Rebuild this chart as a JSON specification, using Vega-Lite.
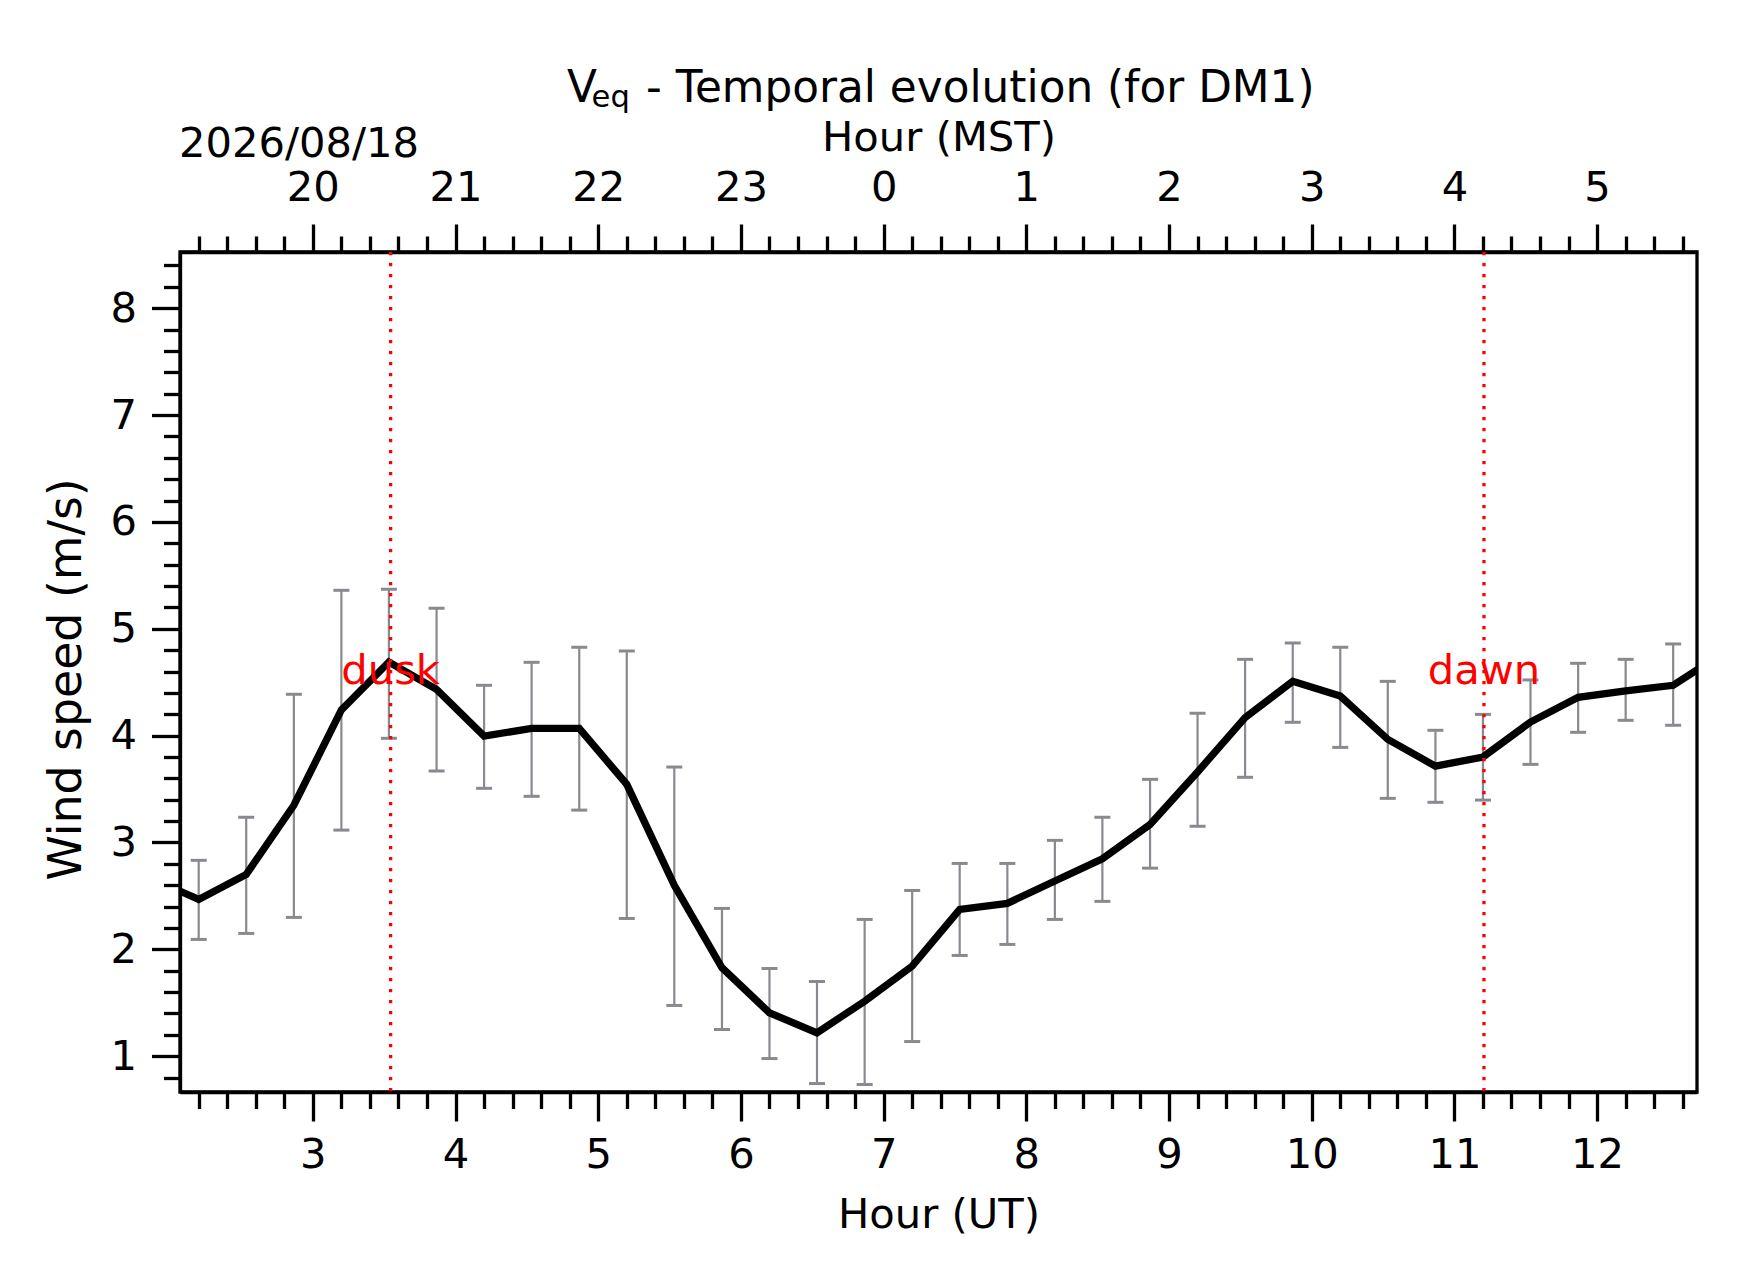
{
  "$schema": "https://vega.github.io/schema/vega-lite/v6.json",
  "autosize": {"type": "none"},
  "padding": {"left": 180, "top": 252, "right": 45, "bottom": 190},
  "width": 1517,
  "height": 840,
  "background": "white",
  "title": {
    "text": "V\u00a0\u00a0\u00a0\u2006- Temporal evolution (for DM1)",
    "subtitle": "\u200b\u00a0\u00a0\u2006eq",
    "anchor": "start",
    "frame": "group",
    "dx": 387,
    "offset": 3,
    "font": "DejaVu Sans",
    "fontSize": 43.75,
    "fontWeight": "normal",
    "color": "black",
    "subtitleFont": "DejaVu Sans",
    "subtitleFontSize": 30.6,
    "subtitleColor": "black",
    "subtitlePadding": -27
  },
  "datasets": {
    "series": [
      {"hour": 1.867, "speed": 2.665, "lo": null, "hi": null},
      {"hour": 2.2, "speed": 2.467, "lo": 2.093, "hi": 2.833},
      {"hour": 2.533, "speed": 2.701, "lo": 2.149, "hi": 3.236},
      {"hour": 2.867, "speed": 3.349, "lo": 2.299, "hi": 4.387},
      {"hour": 3.2, "speed": 4.24, "lo": 3.116, "hi": 5.36},
      {"hour": 3.533, "speed": 4.689, "lo": 3.975, "hi": 5.37},
      {"hour": 3.867, "speed": 4.433, "lo": 3.669, "hi": 5.192},
      {"hour": 4.2, "speed": 3.996, "lo": 3.507, "hi": 4.471},
      {"hour": 4.533, "speed": 4.068, "lo": 3.432, "hi": 4.686},
      {"hour": 4.867, "speed": 4.068, "lo": 3.303, "hi": 4.827},
      {"hour": 5.2, "speed": 3.544, "lo": 2.289, "hi": 4.792},
      {"hour": 5.533, "speed": 2.6, "lo": 1.475, "hi": 3.706},
      {"hour": 5.867, "speed": 1.828, "lo": 1.25, "hi": 2.383},
      {"hour": 6.2, "speed": 1.406, "lo": 0.978, "hi": 1.821},
      {"hour": 6.533, "speed": 1.219, "lo": 0.744, "hi": 1.699},
      {"hour": 6.867, "speed": 1.515, "lo": 0.735, "hi": 2.28},
      {"hour": 7.2, "speed": 1.843, "lo": 1.137, "hi": 2.551},
      {"hour": 7.533, "speed": 2.374, "lo": 1.943, "hi": 2.804},
      {"hour": 7.867, "speed": 2.43, "lo": 2.046, "hi": 2.804},
      {"hour": 8.2, "speed": 2.639, "lo": 2.28, "hi": 3.02},
      {"hour": 8.533, "speed": 2.848, "lo": 2.449, "hi": 3.236},
      {"hour": 8.867, "speed": 3.169, "lo": 2.76, "hi": 3.591},
      {"hour": 9.2, "speed": 3.66, "lo": 3.151, "hi": 4.209},
      {"hour": 9.533, "speed": 4.168, "lo": 3.61, "hi": 4.714},
      {"hour": 9.867, "speed": 4.508, "lo": 4.125, "hi": 4.867},
      {"hour": 10.2, "speed": 4.371, "lo": 3.89, "hi": 4.827},
      {"hour": 10.533, "speed": 3.965, "lo": 3.413, "hi": 4.508},
      {"hour": 10.867, "speed": 3.715, "lo": 3.376, "hi": 4.05},
      {"hour": 11.2, "speed": 3.8, "lo": 3.397, "hi": 4.199},
      {"hour": 11.533, "speed": 4.127, "lo": 3.731, "hi": 4.521},
      {"hour": 11.867, "speed": 4.359, "lo": 4.031, "hi": 4.677},
      {"hour": 12.2, "speed": 4.418, "lo": 4.143, "hi": 4.714},
      {"hour": 12.533, "speed": 4.471, "lo": 4.097, "hi": 4.858},
      {"hour": 12.867, "speed": 4.76, "lo": null, "hi": null}
    ],
    "events": [
      {"label": "dusk", "hour": 3.545, "speed": 4.48},
      {"label": "dawn", "hour": 11.207, "speed": 4.48}
    ]
  },
  "layer": [
    {
      "data": {"name": "series"},
      "transform": [{"filter": "datum.lo != null"}],
      "mark": {"type": "rule", "color": "#888a90", "strokeWidth": 2.2, "clip": true},
      "encoding": {
        "x": {
          "field": "hour", "type": "quantitative",
          "scale": {"domain": [2.069, 12.7], "nice": false, "zero": false},
          "axis": {
            "orient": "bottom", "labels": false, "domain": false, "title": null, "tickSize": 16.5,
            "values": [2.2, 2.4, 2.6, 2.8, 3.2, 3.4, 3.6, 3.8, 4.2, 4.4, 4.6, 4.8, 5.2, 5.4, 5.6, 5.8, 6.2, 6.4, 6.6, 6.8, 7.2, 7.4, 7.6, 7.8, 8.2, 8.4, 8.6, 8.8, 9.2, 9.4, 9.6, 9.8, 10.2, 10.4, 10.6, 10.8, 11.2, 11.4, 11.6, 11.8, 12.2, 12.4, 12.6]
          }
        },
        "y": {
          "field": "lo", "type": "quantitative",
          "scale": {"domain": [0.665, 8.526], "nice": false, "zero": false},
          "axis": {
            "orient": "left", "labels": false, "domain": false, "title": null, "tickSize": 16.5,
            "values": [0.8, 1.2, 1.4, 1.6, 1.8, 2.2, 2.4, 2.6, 2.8, 3.2, 3.4, 3.6, 3.8, 4.2, 4.4, 4.6, 4.8, 5.2, 5.4, 5.6, 5.8, 6.2, 6.4, 6.6, 6.8, 7.2, 7.4, 7.6, 7.8, 8.2, 8.4]
          }
        },
        "y2": {"field": "hi"}
      }
    },
    {
      "data": {"name": "series"},
      "transform": [
        {"filter": "datum.lo != null"},
        {"fold": ["lo", "hi"], "as": ["end", "val"]}
      ],
      "mark": {"type": "tick", "orient": "horizontal", "color": "#888a90", "size": 16, "thickness": 3, "opacity": 1, "clip": true},
      "encoding": {
        "x": {
          "field": "hour", "type": "quantitative",
          "scale": {"domain": [2.069, 12.7], "nice": false, "zero": false},
          "axis": {
            "orient": "top", "values": [3, 4, 5, 6, 7, 8, 9, 10, 11, 12],
            "labelExpr": "'' + ((datum.value + 17) % 24)",
            "tickSize": 28, "labelPadding": 15,
            "title": "Hour (MST)", "titleY": -102, "titleBaseline": "alphabetic"
          }
        },
        "y": {
          "field": "val", "type": "quantitative",
          "scale": {"domain": [0.665, 8.526], "nice": false, "zero": false},
          "axis": null
        }
      }
    },
    {
      "data": {"name": "series"},
      "mark": {"type": "line", "color": "black", "strokeWidth": 7.3, "clip": true},
      "encoding": {
        "x": {
          "field": "hour", "type": "quantitative",
          "scale": {"domain": [2.069, 12.7], "nice": false, "zero": false},
          "axis": {
            "orient": "bottom", "values": [3, 4, 5, 6, 7, 8, 9, 10, 11, 12],
            "format": "d", "tickSize": 29, "labelPadding": 13,
            "title": "Hour (UT)", "titleY": 135, "titleBaseline": "alphabetic"
          }
        },
        "y": {
          "field": "speed", "type": "quantitative",
          "scale": {"domain": [0.665, 8.526], "nice": false, "zero": false},
          "axis": {
            "orient": "left", "values": [1, 2, 3, 4, 5, 6, 7, 8],
            "format": "d", "tickSize": 28.5, "labelPadding": 15,
            "title": "Wind speed (m/s)", "titleFontSize": 45.8, "titleX": -100, "titleY": 427,
            "titleAngle": -90, "titleAlign": "center", "titleBaseline": "alphabetic"
          }
        }
      }
    },
    {
      "data": {"name": "events"},
      "mark": {"type": "rule", "color": "red", "strokeWidth": 3.3, "strokeDash": [3.3, 7.7], "clip": true},
      "encoding": {
        "x": {
          "field": "hour", "type": "quantitative",
          "scale": {"domain": [2.069, 12.7], "nice": false, "zero": false},
          "axis": {
            "orient": "top", "labels": false, "domain": false, "tickSize": 16,
            "values": [2.2, 2.4, 2.6, 2.8, 3.2, 3.4, 3.6, 3.8, 4.2, 4.4, 4.6, 4.8, 5.2, 5.4, 5.6, 5.8, 6.2, 6.4, 6.6, 6.8, 7.2, 7.4, 7.6, 7.8, 8.2, 8.4, 8.6, 8.8, 9.2, 9.4, 9.6, 9.8, 10.2, 10.4, 10.6, 10.8, 11.2, 11.4, 11.6, 11.8, 12.2, 12.4, 12.6],
            "title": "2026/08/18", "titleX": -1.5, "titleY": -96,
            "titleAlign": "left", "titleAnchor": "start", "titleBaseline": "alphabetic"
          }
        }
      }
    },
    {
      "data": {"name": "events"},
      "mark": {"type": "text", "color": "red", "fontSize": 41.67, "align": "center", "baseline": "alphabetic", "clip": true},
      "encoding": {
        "x": {
          "field": "hour", "type": "quantitative",
          "scale": {"domain": [2.069, 12.7], "nice": false, "zero": false},
          "axis": null
        },
        "y": {
          "field": "speed", "type": "quantitative",
          "scale": {"domain": [0.665, 8.526], "nice": false, "zero": false},
          "axis": null
        },
        "text": {"field": "label"}
      }
    }
  ],
  "resolve": {"axis": {"x": "independent", "y": "independent"}},
  "config": {
    "font": "DejaVu Sans",
    "view": {"stroke": "black", "strokeWidth": 3.3},
    "axis": {
      "grid": false,
      "domainColor": "black",
      "domainWidth": 3.3,
      "tickColor": "black",
      "tickWidth": 3.3,
      "labelFont": "DejaVu Sans",
      "labelFontSize": 41.67,
      "labelColor": "black",
      "labelFlush": false,
      "labelOverlap": false,
      "labelBound": false,
      "titleFont": "DejaVu Sans",
      "titleFontSize": 41.67,
      "titleFontWeight": "normal",
      "titleColor": "black"
    }
  }
}
